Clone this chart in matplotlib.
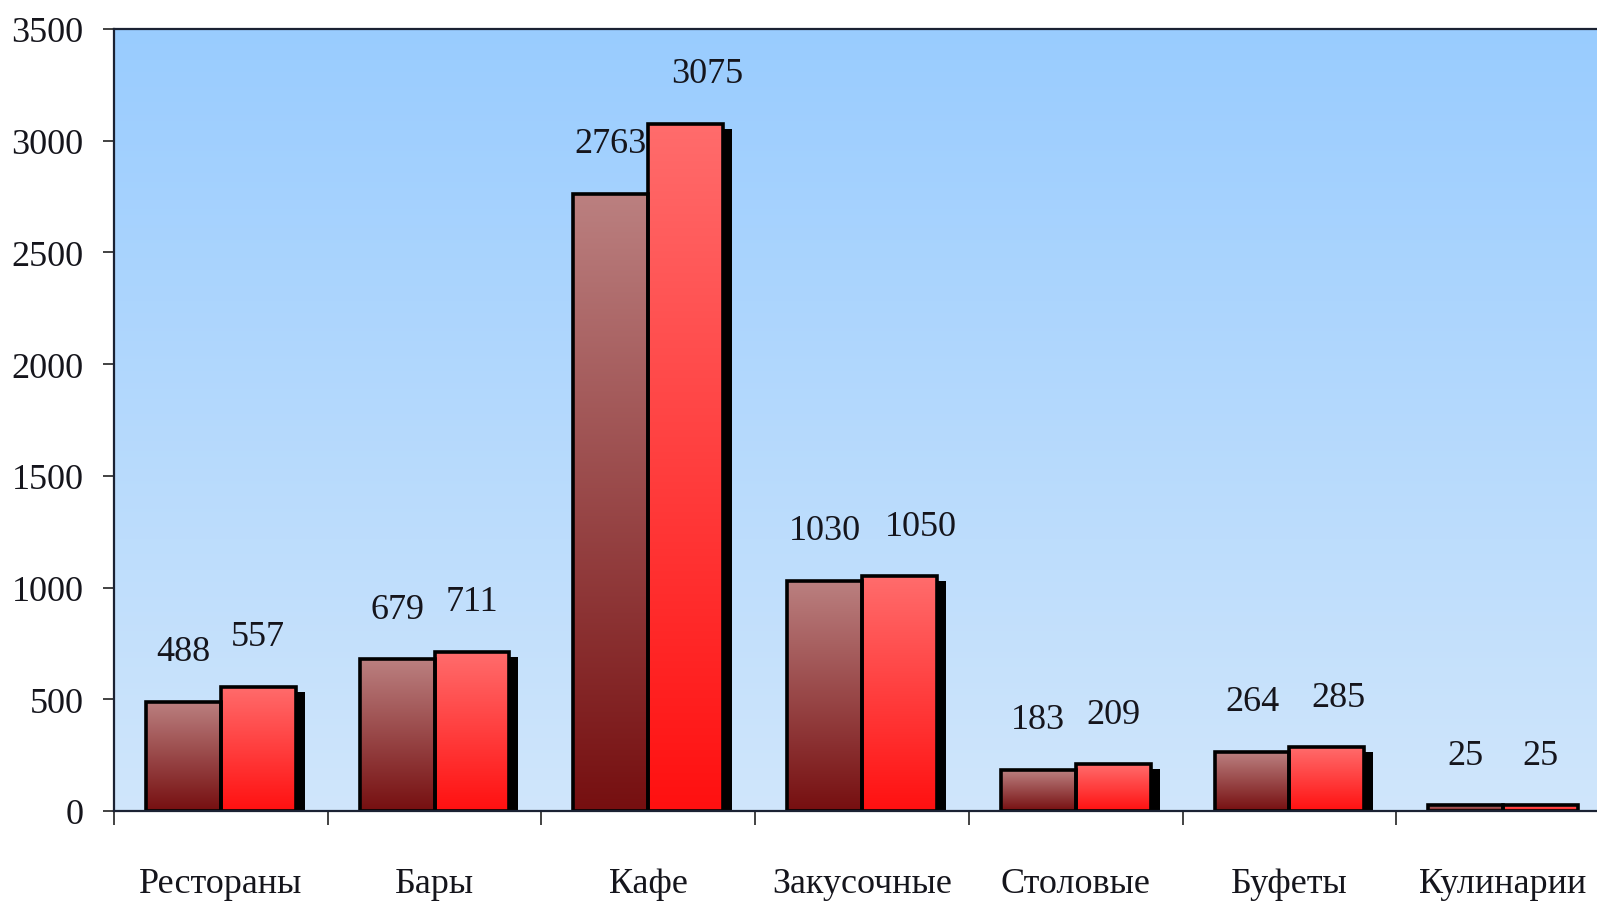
import numpy as np
import matplotlib
matplotlib.use("Agg")
import matplotlib.pyplot as plt
import matplotlib.transforms as mtransforms
from matplotlib.colors import LinearSegmentedColormap

# Data
categories = ["Рестораны", "Бары", "Кафе", "Закусочные", "Столовые", "Буфеты", "Кулинарии"]
series_a = [488, 679, 2763, 1030, 183, 264, 25]
series_b = [557, 711, 3075, 1050, 209, 285, 25]
y_ticks = [0, 500, 1000, 1500, 2000, 2500, 3000, 3500]

plt.rcParams["font.family"] = ["Liberation Serif", "DejaVu Serif"]
TEXT = "#15151c"
FS = 26

fig = plt.figure(figsize=(15.97, 9.03), dpi=100)
ax = fig.add_axes([114 / 1597, 91 / 903, 1496 / 1597, 782 / 903])

n = len(categories)
x = np.arange(n) + 0.5
w = 0.35

# Sky-blue background gradient in the plot area
bg = LinearSegmentedColormap.from_list("bg", ["#d0e6fb", "#99ccff"])
ax.imshow(np.linspace(0, 1, 256).reshape(-1, 1), cmap=bg, origin="lower",
          extent=[0, n, 0, 3500], aspect="auto", zorder=0)

cmap_a = LinearSegmentedColormap.from_list("a", ["#760f10", "#bb8080"])
cmap_b = LinearSegmentedColormap.from_list("b", ["#ff1010", "#ff6c6c"])

# Drop shadow offset (right and down)
shadow_tf = ax.transData + mtransforms.ScaledTranslation(9 / 100, -5 / 100, fig.dpi_scale_trans)

grad = np.linspace(0, 1, 256).reshape(-1, 1)
for xs, vals, cmap in ((x - w / 2, series_a, cmap_a), (x + w / 2, series_b, cmap_b)):
    sh = ax.bar(xs, vals, w, color="black", linewidth=0, zorder=1)
    for p in sh:
        p.set_transform(shadow_tf)
    bars = ax.bar(xs, vals, w, facecolor="none", edgecolor="black", linewidth=2.6, zorder=4)
    for b in bars:
        x0, y0 = b.get_x(), b.get_y()
        im = ax.imshow(grad, cmap=cmap, origin="lower", aspect="auto",
                       extent=[x0, x0 + b.get_width(), y0, y0 + b.get_height()], zorder=2)
        im.set_clip_path(b)

# Value labels; a few second-series labels are nudged right to clear neighbours
nudge_b = {2: 22, 3: 21, 5: 12}
for i in range(n):
    for xv, v, dx in ((x[i] - w / 2, series_a[i], 0), (x[i] + w / 2, series_b[i], nudge_b.get(i, 0))):
        ax.annotate(str(v), (xv, v), xytext=(dx * 0.72, 30), textcoords="offset points",
                    ha="center", va="baseline", fontsize=FS, color=TEXT)

ax.set_xlim(0, n)
ax.set_ylim(0, 3500)

# Category boundaries as ticks; names placed below each group
ax.set_xticks(np.arange(n + 1))
ax.set_xticklabels([])
ax.tick_params(axis="x", direction="out", length=10, width=1.2, color="#222")
for i, name in enumerate(categories):
    ax.annotate(name, (x[i], 0), xycoords=("data", "axes fraction"),
                xytext=(0, -58), textcoords="offset points",
                ha="center", va="baseline", fontsize=FS, color=TEXT, annotation_clip=False)

ax.set_yticks(y_ticks)
ax.set_yticklabels([str(t) for t in y_ticks])
ax.tick_params(axis="y", direction="out", length=8, width=1.2, color="#222",
               pad=14, labelsize=FS, labelcolor=TEXT)

for side in ("left", "top", "bottom"):
    ax.spines[side].set_color("#1b2233")
    ax.spines[side].set_linewidth(1.6)
ax.spines["right"].set_visible(False)
ax.spines["left"].set_zorder(5)
ax.spines["bottom"].set_zorder(5)

fig.savefig("out.png", dpi=100)
